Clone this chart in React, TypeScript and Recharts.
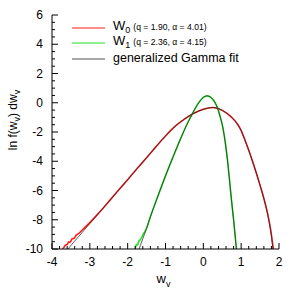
import React from 'react';
import { LineChart, Line, XAxis, YAxis, Legend } from 'recharts';

// W0 data (red) and its generalized Gamma fit
const W0_X = [-3.72, -3.68, -3.64, -3.6, -3.56, -3.52, -3.47, -3.42, -3.36, -3.3, -3.22, -3.12, -3.0, -2.75, -2.5, -2.25, -2.0, -1.75, -1.5, -1.25, -1.0, -0.75, -0.5, -0.25, 0.0, 0.25, 0.5, 0.75, 0.9, 1.0, 1.1, 1.2, 1.3, 1.4, 1.5, 1.6, 1.7, 1.78, 1.85];
const W0_Y = [-10.0, -9.88, -9.72, -9.7, -9.5, -9.55, -9.3, -9.28, -9.05, -8.95, -8.75, -8.5, -8.2, -7.5, -6.76, -6.0, -5.26, -4.5, -3.76, -3.0, -2.27, -1.62, -1.12, -0.72, -0.45, -0.32, -0.52, -1.0, -1.45, -1.9, -2.55, -3.25, -4.0, -4.8, -5.65, -6.55, -7.6, -8.7, -10.0];
const W0_FIT_X = [-3.58, -3.3, -3.0, -2.75, -2.5, -2.25, -2.0, -1.75, -1.5, -1.25, -1.0, -0.75, -0.5, -0.25, 0.0, 0.25, 0.5, 0.75, 0.9, 1.0, 1.1, 1.2, 1.3, 1.4, 1.5, 1.6, 1.7, 1.78, 1.84];
const W0_FIT_Y = [-10.0, -9.16, -8.26, -7.5, -6.76, -6.0, -5.26, -4.5, -3.76, -3.0, -2.27, -1.62, -1.12, -0.72, -0.45, -0.32, -0.52, -1.0, -1.45, -1.9, -2.55, -3.25, -4.0, -4.8, -5.65, -6.55, -7.62, -8.75, -10.0];

// W1 data (green) and its fit
const W1_X = [-1.8, -1.77, -1.74, -1.7, -1.66, -1.6, -1.5, -1.4, -1.2, -1.0, -0.8, -0.6, -0.4, -0.3, -0.2, -0.1, 0.0, 0.1, 0.2, 0.3, 0.35, 0.4, 0.45, 0.5, 0.55, 0.6, 0.65, 0.7, 0.75, 0.8, 0.85, 0.88];
const W1_Y = [-10.0, -9.7, -9.72, -9.45, -9.35, -9.05, -8.58, -7.8, -6.38, -5.0, -3.7, -2.45, -1.3, -0.8, -0.32, 0.08, 0.36, 0.47, 0.36, 0.05, -0.2, -0.55, -1.0, -1.5, -2.2, -3.1, -4.2, -5.5, -6.8, -8.0, -9.35, -10.0];
const W1_FIT_X = [-1.7, -1.6, -1.5, -1.4, -1.2, -1.0, -0.8, -0.6, -0.4, -0.3, -0.2, -0.1, 0.0, 0.1, 0.2, 0.3, 0.35, 0.4, 0.45, 0.5, 0.55, 0.6, 0.65, 0.7, 0.75, 0.8, 0.85, 0.87];
const W1_FIT_Y = [-10.0, -9.3, -8.58, -7.8, -6.38, -5.0, -3.7, -2.45, -1.3, -0.8, -0.32, 0.08, 0.36, 0.47, 0.36, 0.05, -0.2, -0.55, -1.0, -1.5, -2.2, -3.1, -4.2, -5.5, -6.8, -8.0, -9.35, -10.0];

const X_MAJOR = [-4, -3, -2, -1, 0, 1, 2];
const Y_MAJOR = [-10, -8, -6, -4, -2, 0, 2, 4, 6];
const X_MINOR_STEP = 0.2;
const Y_MINOR_STEP = 0.5;

const FONT = '"Liberation Sans", Arial, Helvetica, sans-serif';
const RED = '#ff1a1a';
const GREEN = '#1ee01e';
const FIT = '#2a2a2a';

const zip = (xs: number[], ys: number[]) => xs.map((x, i) => ({ x, y: ys[i] }));
const w0 = zip(W0_X, W0_Y);
const w0Fit = zip(W0_FIT_X, W0_FIT_Y);
const w1 = zip(W1_X, W1_Y);
const w1Fit = zip(W1_FIT_X, W1_FIT_Y);

const withMinor = (majors: number[], step: number) => {
  const out: number[] = [];
  const lo = majors[0];
  const hi = majors[majors.length - 1];
  const n = Math.round((hi - lo) / step);
  for (let i = 0; i <= n; i++) out.push(Math.round((lo + i * step) * 1000) / 1000);
  return out;
};
const X_TICKS = withMinor(X_MAJOR, X_MINOR_STEP);
const Y_TICKS = withMinor(Y_MAJOR, Y_MINOR_STEP);

const isMajor = (v: number, majors: number[]) => majors.some((m) => Math.abs(m - v) < 1e-6);

// ticks point inward, gnuplot style
const BottomTick = ({ x, y, payload }: any) => {
  const major = isMajor(payload.value, X_MAJOR);
  return (
    <g>
      <line x1={x} x2={x} y1={y} y2={y - (major ? 6 : 3)} stroke="#000" />
      {major && (
        <text x={x} y={y + 17} textAnchor="middle" fontSize={12} fontFamily={FONT} fill="#000">
          {payload.value}
        </text>
      )}
    </g>
  );
};

const TopTick = ({ x, y, payload }: any) => {
  const major = isMajor(payload.value, X_MAJOR);
  return <line x1={x} x2={x} y1={y} y2={y + (major ? 6 : 3)} stroke="#000" />;
};

const LeftTick = ({ x, y, payload }: any) => {
  const major = isMajor(payload.value, Y_MAJOR);
  return (
    <g>
      <line x1={x} x2={x + (major ? 6 : 3)} y1={y} y2={y} stroke="#000" />
      {major && (
        <text x={x - 9} y={y + 4} textAnchor="end" fontSize={12} fontFamily={FONT} fill="#000">
          {payload.value}
        </text>
      )}
    </g>
  );
};

const RightTick = ({ x, y, payload }: any) => {
  const major = isMajor(payload.value, Y_MAJOR);
  return <line x1={x} x2={x - (major ? 6 : 3)} y1={y} y2={y} stroke="#000" />;
};

const XLabel = ({ viewBox }: any) => {
  const cx = viewBox.x + viewBox.width / 2 - 2;
  const cy = viewBox.y + 34;
  return (
    <text x={cx} y={cy} textAnchor="middle" fontSize={13} fontFamily={FONT} fill="#000">
      w<tspan dy={4} fontSize={9}>v</tspan>
    </text>
  );
};

const YLabel = ({ viewBox }: any) => {
  const cx = viewBox.x + 17;
  const cy = viewBox.y + viewBox.height / 2 - 12;
  return (
    <text
      x={cx}
      y={cy}
      transform={`rotate(-90, ${cx}, ${cy})`}
      textAnchor="middle"
      fontSize={12}
      fontFamily={FONT}
      fill="#000"
    >
      ln f(w<tspan dy={3} fontSize={9}>v</tspan>
      <tspan dy={-3}>) dw</tspan>
      <tspan dy={3} fontSize={9}>v</tspan>
    </text>
  );
};

const LEGEND_ROWS = [
  { main: 'W', sub: '0', note: '(q = 1.90, α = 4.01)', color: RED, width: 1 },
  { main: 'W', sub: '1', note: '(q = 2.36, α = 4.15)', color: GREEN, width: 1 },
  { main: 'generalized Gamma fit', sub: '', note: '', color: '#a8a8a8', width: 2 },
];

const LegendBox = () => (
  <div style={{ fontFamily: FONT, color: '#000' }}>
    {LEGEND_ROWS.map((r) => (
      <div key={r.main + r.sub} style={{ display: 'flex', alignItems: 'center', height: 15.5 }}>
        <svg width={41} height={6} style={{ display: 'block' }}>
          <line x1={0} x2={33} y1={3} y2={3} stroke={r.color} strokeWidth={r.width} />
        </svg>
        <span style={{ fontSize: r.sub ? 13 : 12.5, whiteSpace: 'nowrap', lineHeight: '15px' }}>
          {r.main}
          {r.sub && <sub style={{ fontSize: 9, verticalAlign: '-3px' }}>{r.sub}</sub>}
          {r.note && <span style={{ fontSize: 8.6, marginLeft: 3 }}>{r.note}</span>}
        </span>
      </div>
    ))}
  </div>
);

export default function App() {
  return (
    <div style={{ position: 'absolute', left: 0, top: 0, width: 300, height: 300, background: '#fff' }}>
      <LineChart width={300} height={300} margin={{ top: 15, right: 21, bottom: 0, left: 0 }}>
        <XAxis
          type="number"
          dataKey="x"
          domain={[-4, 2]}
          allowDataOverflow
          ticks={X_TICKS}
          interval={0}
          tickSize={0}
          tickMargin={0}
          tickLine={false}
          tick={BottomTick}
          height={51}
          axisLine={{ stroke: '#000' }}
          label={{ content: XLabel }}
        />
        <XAxis
          xAxisId="top"
          orientation="top"
          type="number"
          domain={[-4, 2]}
          allowDataOverflow
          ticks={X_TICKS}
          interval={0}
          tickSize={0}
          tickMargin={0}
          tickLine={false}
          tick={TopTick}
          height={0}
          axisLine={{ stroke: '#000' }}
        />
        <YAxis
          type="number"
          domain={[-10, 6]}
          allowDataOverflow
          ticks={Y_TICKS}
          interval={0}
          tickSize={0}
          tickMargin={0}
          tickLine={false}
          tick={LeftTick}
          width={52}
          axisLine={{ stroke: '#000' }}
          label={{ content: YLabel }}
        />
        <YAxis
          yAxisId="right"
          orientation="right"
          type="number"
          domain={[-10, 6]}
          allowDataOverflow
          ticks={Y_TICKS}
          interval={0}
          tickSize={0}
          tickMargin={0}
          tickLine={false}
          tick={RightTick}
          width={0}
          axisLine={{ stroke: '#000' }}
        />
        <Legend
          layout="vertical"
          align="center"
          verticalAlign="middle"
          content={LegendBox}
          wrapperStyle={{ left: 72, top: 20, width: 'auto', height: 'auto' }}
        />
        <Line data={w0} dataKey="y" type="monotone" stroke={RED} strokeWidth={1.6} dot={false} isAnimationActive={false} legendType="none" />
        <Line data={w1} dataKey="y" type="monotone" stroke={GREEN} strokeWidth={1.6} dot={false} isAnimationActive={false} legendType="none" />
        <Line data={w0Fit} dataKey="y" type="monotone" stroke={FIT} strokeOpacity={0.75} strokeWidth={1} dot={false} isAnimationActive={false} legendType="none" />
        <Line data={w1Fit} dataKey="y" type="monotone" stroke={FIT} strokeOpacity={0.75} strokeWidth={1} dot={false} isAnimationActive={false} legendType="none" />
      </LineChart>
    </div>
  );
}
